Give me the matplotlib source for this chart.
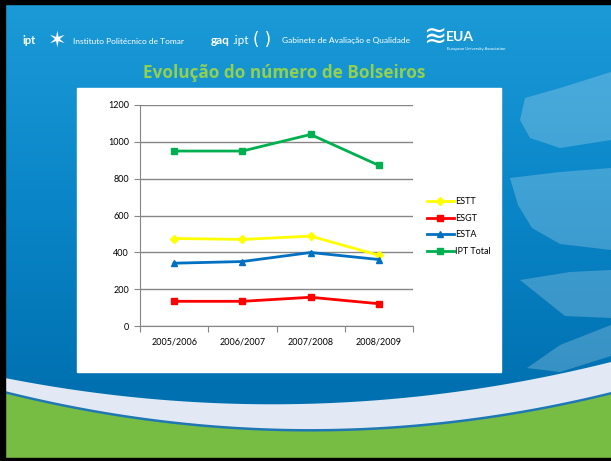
import numpy as np
import matplotlib.pyplot as plt
from matplotlib.patches import Rectangle, Polygon
from matplotlib.colors import LinearSegmentedColormap

# data
anos = ['2005/2006', '2006/2007', '2007/2008', '2008/2009']
estt = [475, 470, 488, 384]
esgt = [134, 134, 156, 121]
esta = [341, 350, 399, 361]
ipt_total = [950, 950, 1040, 872]
yticks = [0, 200, 400, 600, 800, 1000, 1200]

W, H = 611, 461
fig = plt.figure(figsize=(W / 100, H / 100), dpi=100)

# slide background, drawn in pixel coords
bg = fig.add_axes([0, 0, 1, 1])
bg.set_xlim(0, W)
bg.set_ylim(H, 0)
bg.axis('off')

cmap = LinearSegmentedColormap.from_list('bg', ['#1c9bd8', '#0a86c8', '#0070b0'])
grad = np.linspace(0, 1, 256).reshape(-1, 1)
bg.imshow(grad, cmap=cmap, extent=[0, W, 400, 0], aspect='auto', zorder=0)
bg.add_patch(Rectangle((0, 380), W, 90, color='#0070b0', zorder=0))

# light swooshes on the right
sw = [
    [(525, 98), (560, 88), (611, 72), (611, 140), (560, 148), (530, 138), (520, 120)],
    [(510, 178), (560, 172), (611, 168), (611, 250), (560, 244), (532, 228), (518, 205)],
    [(520, 280), (570, 272), (611, 270), (611, 318), (565, 316)],
    [(527, 368), (560, 345), (611, 325), (611, 356), (560, 372)],
]
for p in sw:
    bg.add_patch(Polygon(p, closed=True, color='white', alpha=0.22, lw=0, zorder=1))


def curve(pts):
    xs = [p[0] for p in pts]
    ys = [p[1] for p in pts]
    c = np.polyfit(xs, ys, 2)
    xx = np.linspace(0, W, 200)
    return xx, np.polyval(c, xx)


xx, top = curve([(5, 378), (300, 404), (611, 362)])
_, blue = curve([(5, 391), (300, 429), (611, 392)])
bg.fill_between(xx, top, H, color='#e2e9f4', lw=0, zorder=2)
bg.fill_between(xx, blue, H, color='#1f77b4', lw=0, zorder=3)
bg.fill_between(xx, blue + 2.5, H, color='#77bd43', lw=0, zorder=4)

# black frame
bg.add_patch(Rectangle((0, 0), W, 4, color='black', zorder=5))
bg.add_patch(Rectangle((0, 0), 5, H, color='black', zorder=5))
bg.add_patch(Rectangle((0, H - 3), W, 3, color='black', zorder=5))

# header logos (as text)
bg.text(22, 41, 'ipt', color='white', fontsize=8, fontweight='bold', va='center', family='Lato', zorder=6)
bg.text(57, 41, '\u2736', color='white', fontsize=16, va='center', ha='center', zorder=6)
bg.text(73, 41, 'Instituto Politécnico de Tomar', color='white', fontsize=6, va='center', family='Lato', zorder=6)
bg.text(211, 40, 'gaq', color='white', fontsize=8.5, fontweight='bold', va='center', family='Lato', zorder=6)
bg.text(232, 40, '.ipt', color='white', fontsize=8.5, va='center', family='Lato', zorder=6)
bg.text(262, 40, '( )', color='white', fontsize=12, va='center', ha='center', zorder=6)
bg.text(282, 41, 'Gabinete de Avaliação e Qualidade', color='white', fontsize=6, va='center', family='Lato', zorder=6)
bg.text(435, 37, '\u224b', color='white', fontsize=20, va='center', ha='center', zorder=6)
bg.text(446, 37, 'EUA', color='white', fontsize=10, fontweight='bold', va='center', family='Lato', zorder=6)
bg.text(447, 49, 'European University Association', color='white', fontsize=3, va='center', family='Lato', zorder=6)

bg.text(284, 73, 'Evolução do número de Bolseiros', color='#92d050', fontsize=12.3,
        fontweight='bold', ha='center', va='center', family='Open Sans', zorder=6)

# white chart box
bg.add_patch(Rectangle((77, 88), 424, 284, color='white', zorder=6))

# chart
ax = fig.add_axes([140 / W, 1 - 326 / H, (413 - 140) / W, (326 - 105) / H])
ax.set_zorder(10)
ax.patch.set_alpha(0)
x = np.arange(len(anos))
ax.plot(x, estt, color='#ffff00', marker='D', ms=4, lw=2, label='ESTT')
ax.plot(x, esgt, color='#ff0000', marker='s', ms=5, lw=2, label='ESGT')
ax.plot(x, esta, color='#0070c0', marker='^', ms=5, lw=2, label='ESTA')
ax.plot(x, ipt_total, color='#00b050', marker='s', ms=5, lw=2, label='IPT Total')

ax.set_xlim(-0.5, 3.5)
ax.set_ylim(0, 1200)
ax.set_yticks(yticks)
ax.set_yticklabels([str(v) for v in yticks], fontsize=6.5, family='Lato')
ax.yaxis.grid(True, color='#868686', lw=1)
ax.set_axisbelow(True)
ax.set_xticks(np.arange(-0.5, 4, 1))
ax.set_xticklabels([])
ax.set_xticks(x, minor=True)
ax.set_xticklabels(anos, minor=True, fontsize=6.5, family='Lato')
ax.tick_params(axis='x', which='minor', length=0, pad=8)
ax.tick_params(axis='x', which='major', length=4, color='#868686')
ax.tick_params(axis='y', length=4, color='#868686', pad=4)
for s in ['top', 'right']:
    ax.spines[s].set_visible(False)
ax.spines['left'].set_color('#868686')
ax.spines['bottom'].set_color('#868686')

ax.legend(loc='center left', bbox_to_anchor=(1.02, 0.45), frameon=False,
          prop={'family': 'Lato', 'size': 6.5}, handlelength=3, handletextpad=0.2,
          labelspacing=0.85)

fig.savefig('out.png', dpi=100)
